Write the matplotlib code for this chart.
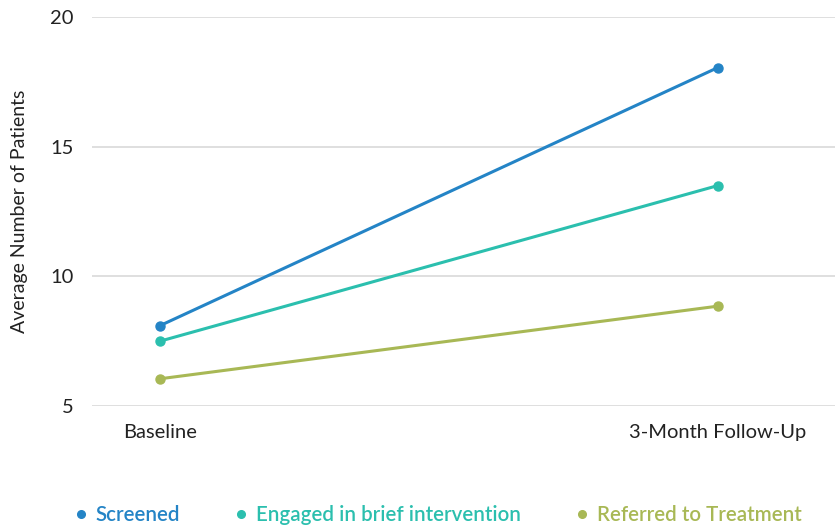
import matplotlib
matplotlib.use("Agg")
import matplotlib.pyplot as plt
from matplotlib.lines import Line2D

categories = ["Baseline", "3-Month Follow-Up"]
series_names = ["Screened", "Engaged in brief intervention", "Referred to Treatment"]
screened = [8.1, 18.05]
engaged = [7.5, 13.5]
referred = [6.05, 8.85]
colors = ["#2484c6", "#2bbfae", "#a8b855"]
y_ticks = [5, 10, 15, 20]

plt.rcParams['font.family'] = ['Lato', 'DejaVu Sans']

fig = plt.figure(figsize=(8.35, 5.25), dpi=100)
ax = fig.add_axes([92/835, 1 - 406/525, (835-92)/835, (406-17)/525])

x = list(range(len(categories)))
for vals, c, name in zip([screened, engaged, referred], colors, series_names):
    ax.plot(x, vals, color=c, lw=2.2, marker='o', ms=6.5, label=name, zorder=3,
            solid_capstyle='round')

ax.set_xlim(-0.122, 1.21)
ax.set_ylim(5, 20)
ax.set_yticks(y_ticks)
ax.set_xticks(x)
ax.set_xticklabels(categories)
ax.grid(axis='y', color='#d9d9d9', lw=1.2)
ax.set_axisbelow(True)
for s in ax.spines.values():
    s.set_visible(False)
ax.tick_params(axis='both', length=0, labelsize=14.5, colors='#222222')
ax.tick_params(axis='y', pad=13)
ax.tick_params(axis='x', pad=13)
ax.set_ylabel("Average Number of Patients", fontsize=14, color='#222222', labelpad=16)

handles = [Line2D([], [], color=c, marker='o', ls='none', ms=5.5) for c in colors]
leg = fig.legend(handles, series_names, loc='center', bbox_to_anchor=(437/835, 1 - 515/525),
                 ncol=3, frameon=False, handletextpad=0.3, columnspacing=2.6,
                 handlelength=0.8, labelcolor=colors, prop={'weight': 'semibold', 'size': 14.8})

fig.savefig("out.png", dpi=100)
